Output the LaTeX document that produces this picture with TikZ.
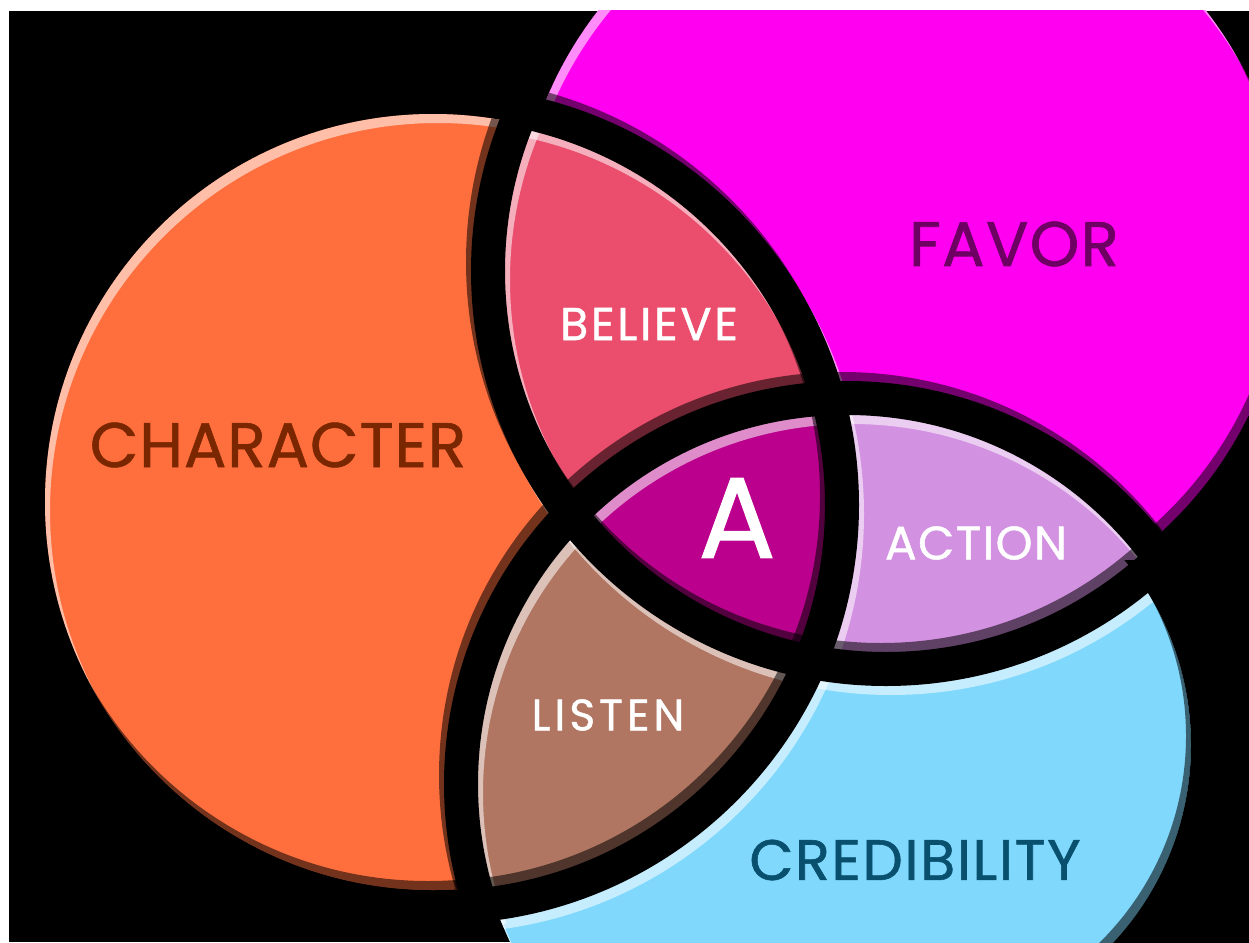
\documentclass[tikz,border=0pt]{standalone}
\usepackage{fontspec}
\setmainfont{Poppins}
\newfontfamily\ringfont{Poppins}[FakeBold=1]

\definecolor{characterfill}{RGB}{255,111,62}
\definecolor{favorfill}{RGB}{255,0,240}
\definecolor{credfill}{RGB}{128,216,252}
\definecolor{believefill}{RGB}{234,78,108}
\definecolor{listenfill}{RGB}{176,118,98}
\definecolor{actionfill}{RGB}{210,145,225}
\definecolor{afill}{RGB}{186,0,140}
\definecolor{charactertext}{RGB}{122,38,0}
\definecolor{favortext}{RGB}{110,0,100}
\definecolor{credtext}{RGB}{8,80,110}

\tikzset{
  gapline/.style={line width=34pt},
  bevellight/.style={white,opacity=.55},
  beveldark/.style={black,opacity=.55},
  ringtext/.style={inner sep=0pt},
}

% black gaps between the parts, moved by (#2,#3)
\newcommand{\venngaps}[3]{%
  \begin{scope}
    \clip ([shift={(#2,#3)}]M) circle (415) ([shift={(#2,#3)}]B) circle (402);
    \draw[gapline,#1] ([shift={(#2,#3)}]gO) circle (402);
  \end{scope}
  \begin{scope}
    \clip ([shift={(#2,#3)}]O) circle (418) ([shift={(#2,#3)}]B) circle (402);
    \draw[gapline,#1] ([shift={(#2,#3)}]gM) circle (398);
  \end{scope}
  \begin{scope}
    \clip ([shift={(#2,#3)}]O) circle (418) ([shift={(#2,#3)}]M) circle (415);
    \draw[gapline,#1] ([shift={(#2,#3)}]gB) circle (386);
  \end{scope}}

\begin{document}
\begin{tikzpicture}[x=1pt,y=-1pt]
	% Canvas
	\useasboundingbox (0,0) rectangle (1249,942);
	\fill[white] (0,0) rectangle (1249,942);
	\fill[black] (9,11) rectangle (1249,942);

	% Centres
	\coordinate (O) at (433,502);
	\coordinate (M) at (902,247);
	\coordinate (B) at (847,784);
	\coordinate (gO) at (440,505);
	\coordinate (gM) at (886,271);
	\coordinate (gB) at (847,784);
	\coordinate (T) at (901,745);

	\begin{scope}
		\clip (9,11) rectangle (1249,942);

		% Discs
		\fill[characterfill] (O) circle (388);
		\fill[favorfill] (M) circle (385);
		\fill[credfill] (B) circle (372);

		% Rims
		\foreach \ctr/\rad in {O/388,M/385,B/372}{
			\begin{scope}
				\clip (\ctr) circle (\rad);
				\fill[bevellight,even odd rule] (-100,-100) rectangle (1400,1100) ([shift={(5,9)}]\ctr) circle (\rad);
				\fill[beveldark,even odd rule] (-100,-100) rectangle (1400,1100) ([shift={(-5,-9)}]\ctr) circle (\rad);
			\end{scope}
		}

		% Overlaps
		\begin{scope}
			\clip (gO) circle (402);
			\fill[believefill] (gM) circle (398);
			\fill[listenfill] (gB) circle (386);
		\end{scope}
		\begin{scope}
			\clip (gM) circle (398);
			\fill[actionfill] (gB) circle (386);
			\clip (gO) circle (402);
			\fill[afill] (gB) circle (386);
		\end{scope}

		% Gaps
		\begin{scope}
			\clip (O) circle (388) (M) circle (385) (B) circle (372);
			\venngaps{bevellight}{5}{9}
			\venngaps{beveldark}{-5}{-9}
		\end{scope}
		\venngaps{black}{0}{0}

		% Right rim of CREDIBILITY
		\begin{scope}
			\clip (1100,560) rectangle (1300,1000);
			\fill[black,even odd rule] (900,400) rectangle (1400,1100) (T) circle (290);
		\end{scope}
		\begin{scope}
			\clip (1050,540) rectangle (1300,1000);
			\clip (T) circle (290);
			\clip (B) circle (372);
			\fill[beveldark,even odd rule] (-100,-100) rectangle (1400,1100) ([shift={(-5,-9)}]T) circle (290);
		\end{scope}
	\end{scope}

	% Labels
	\node[ringtext, text=charactertext, font={\ringfont\fontsize{63}{63}\selectfont\addfontfeature{LetterSpace=1.5}}] (character) at (278,445) {CHARACTER};
	\node[ringtext, text=favortext, font={\ringfont\fontsize{63}{63}\selectfont\addfontfeature{LetterSpace=2}}] (favor) at (1014,244) {FAVOR};
	\node[ringtext, text=credtext, font={\ringfont\fontsize{57}{57}\selectfont\addfontfeature{LetterSpace=3}}] (credibility) at (915,860) {CREDIBILITY};
	\node[ringtext, text=white, font={\ringfont\fontsize{46}{46}\selectfont\addfontfeature{LetterSpace=6}}] (believe) at (649,324) {BELIEVE};
	\node[ringtext, text=white, font={\ringfont\fontsize{47}{47}\selectfont\addfontfeature{LetterSpace=3}}] (action) at (976,543) {ACTION};
	\node[ringtext, text=white, font={\ringfont\fontsize{44}{44}\selectfont\addfontfeature{LetterSpace=9}}] (listen) at (608,715) {LISTEN};
	\node[ringtext, text=white, font={\ringfont\fontsize{115}{115}\selectfont}] (a) at (737,518) {A};
\end{tikzpicture}
\end{document}
